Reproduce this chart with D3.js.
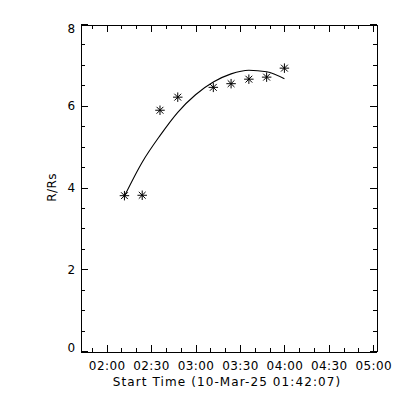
<!DOCTYPE html>
<html>
<head>
<meta charset="utf-8">
<script src="https://cdn.jsdelivr.net/npm/d3@7"></script>
<style>
  html, body { margin: 0; padding: 0; background: #fff; }
  svg text { font-family: "DejaVu Sans", "Liberation Sans", sans-serif; font-size: 12px; letter-spacing: 0.4px; fill: #000; }
  svg text.x-title { letter-spacing: 1.1px; }
  .frame line, .frame path { stroke: #000; shape-rendering: crispEdges; }
</style>
</head>
<body>
<svg class="chart" width="400" height="400"></svg>
<script>
document.addEventListener("DOMContentLoaded", function(){

  // measured height-time points (R/Rs)
  const obsTimes = ["02:12", "02:24", "02:36", "02:48", "03:12", "03:24", "03:36", "03:48", "04:00"];
  const obsValues = [3.80, 3.81, 5.89, 6.21, 6.45, 6.54, 6.65, 6.70, 6.92];

  // fitted curve
  const fitTimes = ["02:12", "02:24", "02:36", "02:48", "03:00", "03:12", "03:24", "03:36", "03:48", "04:00"];
  const fitValues = [3.79, 4.62, 5.27, 5.84, 6.27, 6.58, 6.78, 6.87, 6.83, 6.66];

  const xRange = ["01:42:00", "05:01:50"];
  const yRange = [0, 8];
  const xTitle = "Start Time (10-Mar-25 01:42:07)";
  const yTitle = "R/Rs";

  const parse = d3.utcParse("%Y-%m-%d %H:%M");
  const parseS = d3.utcParse("%Y-%m-%d %H:%M:%S");
  const day = "2025-03-10 ";

  const svg = d3.select(".chart");
  const left = 80, right = 376, top = 24, bottom = 351;

  const x = d3.scaleUtc().domain(xRange.map(t => parseS(day + t))).range([left, right]);
  const y = d3.scaleLinear().domain(yRange).range([bottom, top]);

  const majorX = x.ticks(d3.utcMinute.every(30));
  const minorX = x.ticks(d3.utcMinute.every(10));
  const majorY = d3.range(0, 8.001, 2);
  const minorY = d3.range(0, 8.001, 0.5);
  const fmt = d3.utcFormat("%H:%M");

  const frame = svg.append("g").attr("class", "frame");

  // bottom / top axes
  frame.append("g").attr("transform", `translate(0,${bottom + 0.5})`)
    .call(d3.axisBottom(x).tickValues(minorX).tickSize(-4).tickSizeOuter(0).tickFormat(""));
  const bAxis = frame.append("g").attr("transform", `translate(0,${bottom + 0.5})`)
    .call(d3.axisBottom(x).tickValues(majorX).tickSize(-7).tickSizeOuter(0).tickFormat(fmt).tickPadding(10));
  bAxis.select(".domain").remove();
  bAxis.selectAll("text").attr("font-size", null).attr("font-family", null);

  frame.append("g").attr("transform", `translate(0,${top + 0.5})`)
    .call(d3.axisTop(x).tickValues(minorX).tickSize(-4).tickSizeOuter(0).tickFormat(""));
  frame.append("g").attr("transform", `translate(0,${top + 0.5})`)
    .call(d3.axisTop(x).tickValues(majorX).tickSize(-7).tickSizeOuter(0).tickFormat(""))
    .select(".domain").remove();

  // left / right axes
  frame.append("g").attr("transform", `translate(${left + 0.5},0)`)
    .call(d3.axisLeft(y).tickValues(minorY).tickSize(-4).tickSizeOuter(0).tickFormat(""));
  const lAxis = frame.append("g").attr("transform", `translate(${left + 0.5},0)`)
    .call(d3.axisLeft(y).tickValues(majorY).tickSize(-7).tickSizeOuter(0).tickFormat(d3.format("d")).tickPadding(5));
  lAxis.select(".domain").remove();
  lAxis.selectAll("text").attr("font-size", null).attr("font-family", null)
    .attr("dy", d => d === 8 ? "0.7em" : d === 0 ? "0" : "0.35em");

  frame.append("g").attr("transform", `translate(${right + 0.5},0)`)
    .call(d3.axisRight(y).tickValues(minorY).tickSize(-4).tickSizeOuter(0).tickFormat(""));
  frame.append("g").attr("transform", `translate(${right + 0.5},0)`)
    .call(d3.axisRight(y).tickValues(majorY).tickSize(-7).tickSizeOuter(0).tickFormat(""))
    .select(".domain").remove();

  // titles
  svg.append("text")
    .attr("class", "x-title")
    .attr("x", (left + right) / 2 - 1)
    .attr("y", 386)
    .attr("text-anchor", "middle")
    .text(xTitle);

  svg.append("text")
    .attr("transform", `translate(56,${(top + bottom) / 2}) rotate(-90)`)
    .attr("text-anchor", "middle")
    .text(yTitle);

  // fitted curve
  const line = d3.line()
    .x(d => x(parse(day + d[0])))
    .y(d => y(d[1]))
    .curve(d3.curveMonotoneX);

  svg.append("path")
    .datum(d3.zip(fitTimes, fitValues))
    .attr("d", line)
    .attr("fill", "none")
    .attr("stroke", "#000")
    .attr("stroke-width", 1.1);

  // asterisk marker
  const asterisk = {
    draw(ctx, size) {
      const r = Math.sqrt(size) / 2;
      const d = r * 0.72;
      ctx.moveTo(-r, 0); ctx.lineTo(r, 0);
      ctx.moveTo(0, -r); ctx.lineTo(0, r);
      ctx.moveTo(-d, -d); ctx.lineTo(d, d);
      ctx.moveTo(-d, d); ctx.lineTo(d, -d);
    }
  };

  svg.append("g")
    .selectAll("path")
    .data(d3.zip(obsTimes, obsValues))
    .enter()
    .append("path")
    .attr("transform", d => `translate(${x(parse(day + d[0]))},${y(d[1])})`)
    .attr("d", d3.symbol().type(asterisk).size(90))
    .attr("fill", "none")
    .attr("stroke", "#000")
    .attr("stroke-width", 1);

});
</script>
</body>
</html>
